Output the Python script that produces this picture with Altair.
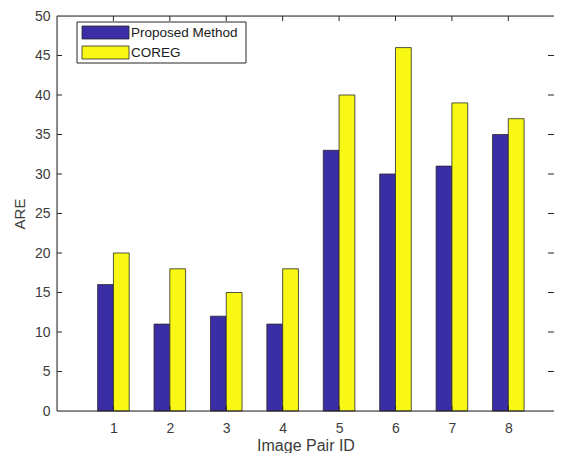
import altair as alt
import pandas as pd

pair_ids = [1, 2, 3, 4, 5, 6, 7, 8]
proposed = [16, 11, 12, 11, 33, 30, 31, 35]
coreg = [20, 18, 15, 18, 40, 46, 39, 37]
series_names = ["Proposed Method", "COREG"]
series_colors = ["#3B2DA6", "#F8F814"]
y_ticks = [0, 5, 10, 15, 20, 25, 30, 35, 40, 45, 50]

W, H = 497, 395
X_MAX = 8.81
BAR_W = 0.28
FONT = "Liberation Sans"
TXT = "#3c3c3c"
LINE = "#262626"

rows = []
for i, p, c in zip(pair_ids, proposed, coreg):
    rows.append({"id": i, "series": series_names[0], "value": p, "k": -1})
    rows.append({"id": i, "series": series_names[1], "value": c, "k": 0})
df = pd.DataFrame(rows)

xscale = alt.Scale(domain=[0, X_MAX], nice=False, zero=False)
yscale = alt.Scale(domain=[0, 50], nice=False)

xaxis = alt.Axis(values=pair_ids, format="d", labelOverlap=False,
                 ticks=False, domain=False, grid=False,
                 labelFontSize=14, labelColor=TXT, labelFont=FONT, labelPadding=10,
                 title="Image Pair ID", titleFontSize=16, titleFont=FONT,
                 titleColor=TXT, titleFontWeight="normal", titlePadding=2)
yaxis = alt.Axis(values=y_ticks, format="d", labelOverlap=False,
                 ticks=False, domain=False, grid=False,
                 labelFontSize=14, labelColor=TXT, labelFont=FONT, labelPadding=7,
                 title="ARE", titleFontSize=15, titleFont=FONT,
                 titleColor=TXT, titleFontWeight="normal", titlePadding=7)

bars = alt.Chart(df).transform_calculate(
    x0=f"datum.id + datum.k*{BAR_W}",
    x1=f"datum.id + (datum.k+1)*{BAR_W}",
).mark_bar(stroke="#2a2a2a", strokeWidth=0.8).encode(
    x=alt.X("x0:Q", scale=xscale, axis=xaxis, title="Image Pair ID"),
    x2="x1:Q",
    y=alt.Y("value:Q", scale=yscale, axis=yaxis, title="ARE"),
    y2=alt.datum(0),
    color=alt.Color("series:N", scale=alt.Scale(domain=series_names, range=series_colors),
                    legend=None),
)

one = pd.DataFrame({"a": [0]})
border_l = alt.Chart(one).mark_rule(color=LINE).encode(
    x=alt.value(0), y=alt.value(0), y2=alt.value(H))
border_t = alt.Chart(one).mark_rule(color=LINE).encode(
    x=alt.value(0), x2=alt.value(W), y=alt.value(0))
border_b = alt.Chart(one).mark_rule(color=LINE).encode(
    x=alt.value(0), x2=alt.value(W), y=alt.value(H))

ydf = pd.DataFrame({"v": y_ticks[1:-1]})
xdf = pd.DataFrame({"v": pair_ids})
yl = alt.Chart(ydf).mark_rule(color=LINE).encode(
    y=alt.Y("v:Q", scale=yscale, axis=yaxis, title="ARE"), x=alt.value(0), x2=alt.value(5))
yr = alt.Chart(ydf).mark_rule(color=LINE).encode(
    y=alt.Y("v:Q", scale=yscale, axis=yaxis, title="ARE"), x=alt.value(W - 6), x2=alt.value(W))
xb = alt.Chart(xdf).mark_rule(color=LINE).encode(
    x=alt.X("v:Q", scale=xscale, axis=xaxis, title="Image Pair ID"),
    y=alt.value(H - 5), y2=alt.value(H))
xt = alt.Chart(xdf).mark_rule(color=LINE).encode(
    x=alt.X("v:Q", scale=xscale, axis=xaxis, title="Image Pair ID"),
    y=alt.value(0), y2=alt.value(5))

# legend (manual, MATLAB style)
leg_df = pd.DataFrame({"series": series_names, "row": [0, 1]})
leg_box = alt.Chart(one).mark_rect(
    fill="white", stroke=LINE, strokeWidth=1).encode(
    x=alt.value(20), x2=alt.value(189), y=alt.value(6), y2=alt.value(47))
leg_sw = alt.Chart(leg_df).transform_calculate(
    yy="10 + datum.row*20", yy2="23 + datum.row*20"
).mark_rect(stroke="#2a2a2a", strokeWidth=0.8).encode(
    x=alt.value(25), x2=alt.value(72),
    y=alt.Y("yy:Q", scale=None), y2="yy2:Q",
    color=alt.Color("series:N", scale=alt.Scale(domain=series_names, range=series_colors),
                    legend=None),
)
leg_tx = alt.Chart(leg_df).transform_calculate(
    yy="17 + datum.row*20"
).mark_text(align="left", baseline="middle", font=FONT, fontSize=13.5, color="#1a1a1a").encode(
    x=alt.value(74), y=alt.Y("yy:Q", scale=None), text="series:N")

chart = alt.layer(bars, border_l, border_t, border_b, yl, yr, xb, xt,
                  leg_box, leg_sw, leg_tx).properties(
    width=W, height=H,
    padding={"left": 49, "top": 8, "right": 0, "bottom": 42},
    autosize=alt.AutoSizeParams(type="none"),
).configure_view(stroke=None).configure(background="white")

chart.save("out.html", embed_options={"renderer": "svg", "actions": False})
